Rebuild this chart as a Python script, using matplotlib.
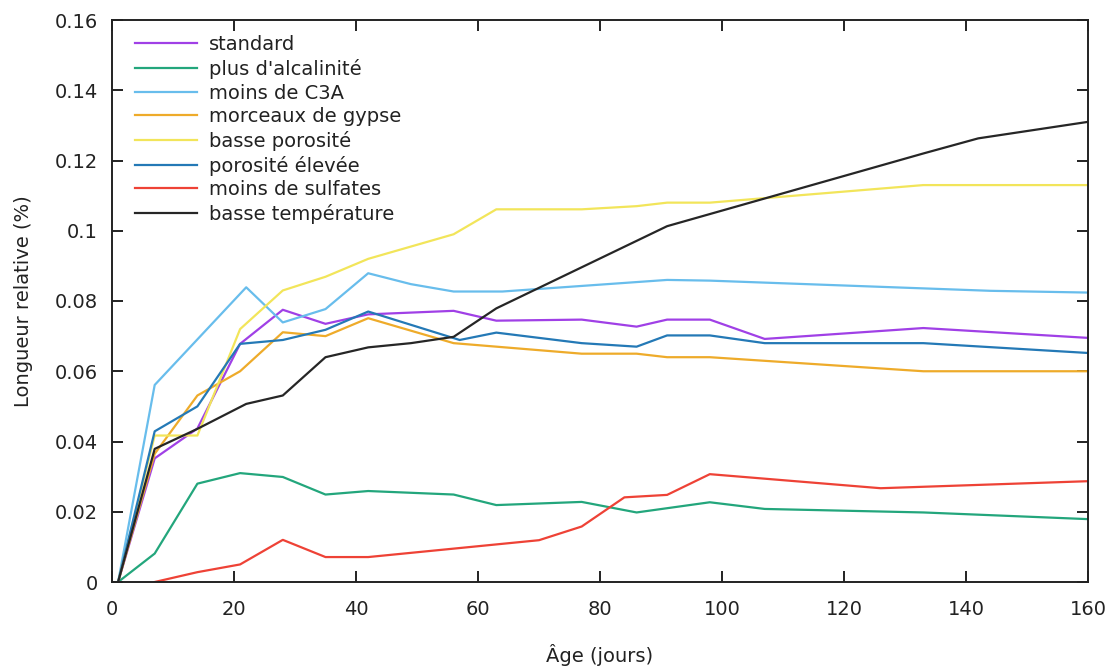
import matplotlib
matplotlib.use('Agg')
import matplotlib.pyplot as plt

# Données (âge en jours, longueur relative en %)
days_standard = [1, 7, 14, 21, 28, 35, 42, 56, 63, 77, 86, 91, 98, 107, 133, 160]
standard = [0, 0.0352, 0.0437, 0.0678, 0.0775, 0.0735, 0.0762, 0.0772, 0.0744,
            0.0747, 0.0727, 0.0747, 0.0747, 0.0692, 0.0723, 0.0695]

days_alcalinite = [1, 7, 14, 21, 28, 35, 42, 56, 63, 77, 86, 98, 107, 133, 160]
alcalinite = [0, 0.0081, 0.028, 0.031, 0.0299, 0.0249, 0.0259, 0.0249, 0.0219,
              0.0228, 0.0198, 0.0227, 0.0208, 0.0198, 0.0179]

days_c3a = [1, 7, 22, 28, 35, 42, 49, 56, 64, 91, 98, 144, 160]
moins_c3a = [0, 0.0561, 0.0839, 0.0739, 0.0777, 0.0879, 0.0848, 0.0827, 0.0827,
             0.086, 0.0858, 0.0829, 0.0824]

days_gypse = [1, 7, 14, 21, 28, 35, 42, 56, 63, 77, 86, 91, 98, 133, 160]
gypse = [0, 0.0365, 0.0531, 0.060, 0.0711, 0.070, 0.0751, 0.068, 0.067, 0.065,
         0.065, 0.064, 0.064, 0.060, 0.060]

days_basse_poro = [1, 7, 14, 21, 28, 35, 42, 56, 63, 77, 86, 91, 98, 133, 160]
basse_poro = [0, 0.0417, 0.0417, 0.072, 0.083, 0.0869, 0.092, 0.099, 0.1061,
              0.1061, 0.107, 0.108, 0.108, 0.113, 0.113]

days_poro_elevee = [1, 7, 14, 21, 28, 35, 42, 57, 63, 77, 86, 91, 98, 107, 133, 160]
poro_elevee = [0, 0.0429, 0.050, 0.0678, 0.0689, 0.0718, 0.077, 0.0689, 0.071,
               0.068, 0.067, 0.0702, 0.0702, 0.068, 0.068, 0.0652]

days_sulfates = [7, 14, 21, 28, 35, 42, 70, 77, 84, 91, 98, 126, 160]
moins_sulfates = [0, 0.0028, 0.005, 0.012, 0.0071, 0.0071, 0.0119, 0.0158,
                  0.0241, 0.0248, 0.0307, 0.0267, 0.0287]

days_basse_temp = [1, 7, 14, 22, 28, 35, 42, 49, 56, 63, 91, 133, 142, 160]
basse_temp = [0, 0.0379, 0.0436, 0.0507, 0.0531, 0.064, 0.0668, 0.068, 0.0698,
              0.0779, 0.1013, 0.122, 0.1263, 0.131]

plt.rcParams['font.family'] = ['DejaVu Sans']
plt.rcParams['font.size'] = 14

fig = plt.figure(figsize=(11.17, 6.66), dpi=100)
ax = fig.add_axes([112 / 1117, 84 / 666, 976 / 1117, 562 / 666])

lw = 1.6
ax.plot(days_standard, standard, color='#a040e6', lw=lw, label='standard')
ax.plot(days_alcalinite, alcalinite, color='#23a67c', lw=lw, label="plus d'alcalinité")
ax.plot(days_c3a, moins_c3a, color='#68bdec', lw=lw, label='moins de C3A')
ax.plot(days_gypse, gypse, color='#eeab2a', lw=lw, label='morceaux de gypse')
ax.plot(days_basse_poro, basse_poro, color='#f2e55a', lw=lw, label='basse porosité')
ax.plot(days_poro_elevee, poro_elevee, color='#2479b6', lw=lw, label='porosité élevée')
ax.plot(days_sulfates, moins_sulfates, color='#ee4236', lw=lw, label='moins de sulfates')
ax.plot(days_basse_temp, basse_temp, color='#262626', lw=lw, label='basse température')

ax.set_xlim(0, 160)
ax.set_ylim(0, 0.16)
ax.set_xticks(range(0, 161, 20))
ax.set_yticks([0, 0.02, 0.04, 0.06, 0.08, 0.1, 0.12, 0.14, 0.16])
ax.set_yticklabels(['0', '0.02', '0.04', '0.06', '0.08', '0.1', '0.12', '0.14', '0.16'])

ax.tick_params(direction='in', length=8, width=1.4, top=True, right=True,
               colors='#222222')
ax.tick_params(axis='x', pad=13)
ax.tick_params(axis='y', pad=10)
for s in ax.spines.values():
    s.set_linewidth(1.4)
    s.set_color('#222222')

ax.set_xlabel('Âge (jours)', labelpad=18, color='#222222')
ax.set_ylabel('Longueur relative (%)', labelpad=16, color='#222222')

ax.legend(loc='upper left', bbox_to_anchor=(0.0236, 0.973), frameon=False,
          borderpad=0, borderaxespad=0, handlelength=3.2, handletextpad=0.6,
          labelspacing=0.24, labelcolor='#222222')

plt.savefig('out.png', dpi=100)
